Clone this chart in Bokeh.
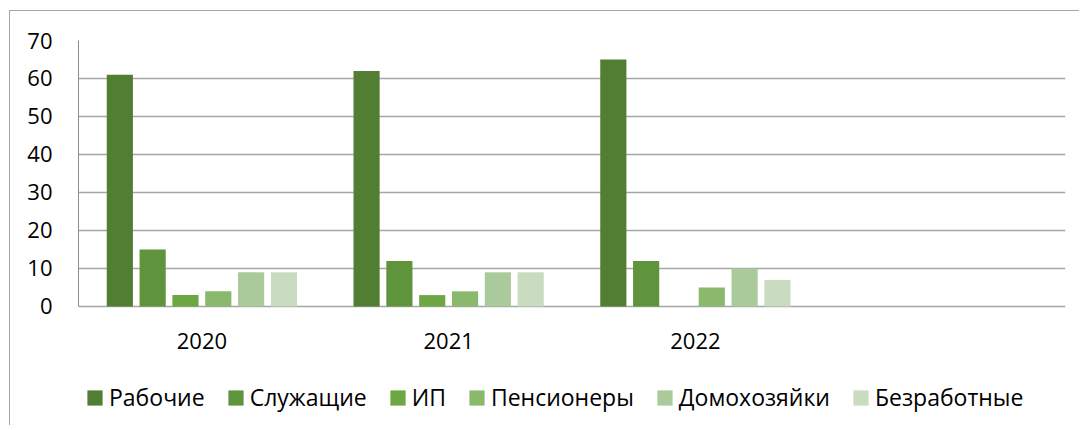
from bokeh.plotting import figure
from bokeh.models import ColumnDataSource, FactorRange, Range1d, Legend, LegendItem, FixedTicker
from bokeh.core.properties import value
from bokeh.transform import dodge
from bokeh.embed import file_html
from bokeh.resources import INLINE

years = ["2020", "2021", "2022"]
axis_factors = ["2020", "2021", "2022", " "]
series = ["Рабочие", "Служащие", "ИП", "Пенсионеры", "Домохозяйки", "Безработные"]
rabochie = [61, 62, 65]
sluzhashchie = [15, 12, 12]
ip = [3, 3, 0]
pensionery = [4, 4, 5]
domokhozyaiki = [9, 9, 10]
bezrabotnye = [9, 9, 7]
y_ticks = [0, 10, 20, 30, 40, 50, 60, 70]
colors = ["#527E33", "#5F943C", "#6CA744", "#8AB96D", "#ABCA9B", "#C9DCC0"]

values = [rabochie, sluzhashchie, ip, pensionery, domokhozyaiki, bezrabotnye]
keys = ["s%d" % i for i in range(len(series))]
data = {"year": years}
for k, v in zip(keys, values):
    data[k] = v
source = ColumnDataSource(data)

FONT = "Open Sans"
FS = "22px"

p = figure(x_range=FactorRange(factors=axis_factors, range_padding=0),
           y_range=Range1d(-31.58, 70),
           width=1070, height=415, output_backend="svg", toolbar_location=None,
           min_border_left=68, min_border_right=15, min_border_top=29, min_border_bottom=0)
p.styles = {"margin-left": "9px", "margin-top": "10px",
            "border-left": "1px solid #A6A6A6", "border-top": "1px solid #A6A6A6"}

pitch = 0.133
items = []
for j, (k, name, c) in enumerate(zip(keys, series, colors)):
    off = (j - 2.5) * pitch
    r = p.vbar(x=dodge("year", off, range=p.x_range), top=k, width=0.106, bottom=0,
               source=source, fill_color=c, line_color=None)
    items.append(LegendItem(label=name, renderers=[r]))

p.text(x="year", y=0, text="year", source=source, y_offset=35,
       text_align="center", text_baseline="middle",
       text_font=value(FONT), text_font_size=FS, text_color="black")

p.outline_line_color = None
p.xgrid.grid_line_color = None
p.ygrid.grid_line_color = "#A6A6A6"
p.ygrid.grid_line_width = 1.3
p.ygrid.ticker = FixedTicker(ticks=y_ticks)

p.xaxis.visible = False

p.yaxis.ticker = FixedTicker(ticks=y_ticks)
p.yaxis.bounds = (0, 70)
p.yaxis.axis_line_color = "#8C8C8C"
p.yaxis.major_tick_line_color = None
p.yaxis.minor_tick_line_color = None
p.yaxis.major_tick_out = 0
p.yaxis.major_tick_in = 0
p.yaxis.major_label_standoff = 26
p.yaxis.major_label_text_font = FONT
p.yaxis.major_label_text_font_size = FS
p.yaxis.major_label_text_color = "black"

legend = Legend(items=items, orientation="horizontal", location=(7, 13),
                glyph_width=19, glyph_height=19, label_standoff=5, spacing=21,
                label_text_font=FONT, label_text_font_size="23px", label_text_color="black",
                border_line_color=None, background_fill_alpha=0, padding=0, margin=0)
p.add_layout(legend, "center")

open("out.html", "w").write(file_html(p, INLINE))
